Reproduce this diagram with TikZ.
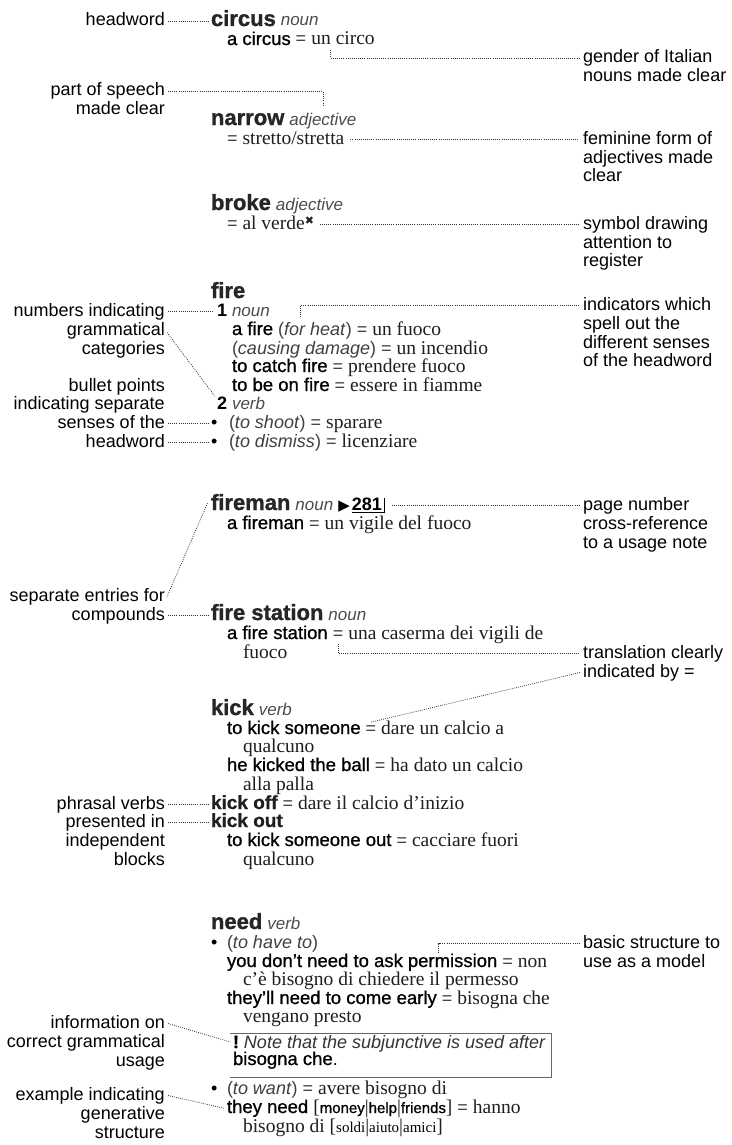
\documentclass[tikz,border=0pt]{standalone}
\usepackage{fontspec}
\setmainfont{Liberation Sans}
\newfontfamily\sansmed[FakeBold=0.9]{Liberation Sans}
\newfontfamily\serifrm{Liberation Serif}
\newfontfamily\symf{DejaVu Sans}
\newcommand\lblf{\fontsize{18}{18}\selectfont}
\newcommand\hwf{\fontsize{22}{22}\selectfont\bfseries\addfontfeature{FakeBold=1.2}\color{black!85}}
\newcommand\posf{\fontsize{17}{17}\selectfont\itshape\color{black!70}}
\newcommand\enf{\fontsize{18.5}{18.5}\selectfont\sansmed}
\newcommand\itf{\fontsize{19.5}{19.5}\selectfont\serifrm\color{black!88}}
\newcommand\eqs{{\fontsize{18}{18}\selectfont\color{black!75}=}}
\newcommand\indic[1]{{\fontsize{18}{18}\selectfont\color{black!75}(\textit{#1})}}
\newcommand\bld{\fontsize{19}{19}\selectfont\bfseries\addfontfeature{FakeBold=0.8}\color{black!88}}
\newcommand\smf{\fontsize{15}{15}\selectfont\sansmed}
\newcommand\smr{\fontsize{15}{15}\selectfont\serifrm}
\begin{document}
\begin{tikzpicture}[x=1pt,y=-1pt,
  ent/.style={inner sep=0pt, outer sep=0pt, anchor=base west, font=\lblf},
  labl/.style={inner sep=0pt, anchor=base east, font=\lblf, text height=13pt, text depth=4pt},
  labr/.style={inner sep=0pt, anchor=base west, font=\lblf, text height=13pt, text depth=4pt},
  dots/.style={draw=black!80, line width=0.8pt, dash pattern=on 0.8pt off 1.3pt},
  rule/.style={draw=black!60, line width=0.8pt}]
\fill[white] (0,0) rectangle (731,1145);
\useasboundingbox (0,0) rectangle (731,1145);

% ---------- left labels
\node[labl] (L1) at (165,26) {headword};
\node[labl] (L2a) at (165,96) {part of speech};
\node[labl] (L2b) at (165,115) {made clear};
\node[labl] (L3a) at (165,316) {numbers indicating};
\node[labl] (L3b) at (165,335) {grammatical};
\node[labl] (L3c) at (165,354) {categories};
\node[labl] (L4a) at (165,391) {bullet points};
\node[labl] (L4b) at (165,409) {indicating separate};
\node[labl] (L4c) at (165,428) {senses of the};
\node[labl] (L4d) at (165,447) {headword};
\node[labl] (L5a) at (165,601) {separate entries for};
\node[labl] (L5b) at (165,620) {compounds};
\node[labl] (L6a) at (165,809) {phrasal verbs};
\node[labl] (L6b) at (165,827) {presented in};
\node[labl] (L6c) at (165,846) {independent};
\node[labl] (L6d) at (165,865) {blocks};
\node[labl] (L7a) at (165,1028) {information on};
\node[labl] (L7b) at (165,1047) {correct grammatical};
\node[labl] (L7c) at (165,1066) {usage};
\node[labl] (L8a) at (165,1100) {example indicating};
\node[labl] (L8b) at (165,1119) {generative};
\node[labl] (L8c) at (165,1138) {structure};

% ---------- right labels
\node[labr] (R1a) at (583,63) {gender of Italian};
\node[labr] (R1b) at (583,82) {nouns made clear};
\node[labr] (R2a) at (583,144) {feminine form of};
\node[labr] (R2b) at (583,163) {adjectives made};
\node[labr] (R2c) at (583,181) {clear};
\node[labr] (R3a) at (583,229) {symbol drawing};
\node[labr] (R3b) at (583,248) {attention to};
\node[labr] (R3c) at (583,266) {register};
\node[labr] (R4a) at (583,310) {indicators which};
\node[labr] (R4b) at (583,329) {spell out the};
\node[labr] (R4c) at (583,348) {different senses};
\node[labr] (R4d) at (583,366) {of the headword};
\node[labr] (R5a) at (583,510) {page number};
\node[labr] (R5b) at (583,529) {cross-reference};
\node[labr] (R5c) at (583,548) {to a usage note};
\node[labr] (R6a) at (583,658) {translation clearly};
\node[labr] (R6b) at (583,677) {indicated by =};
\node[labr] (R7a) at (583,948) {basic structure to};
\node[labr] (R7b) at (583,967) {use as a model};

% ---------- entries
\node[ent] (circ) at (211,26) {\hwf circus};
\node[ent] (circp) at ([xshift=5pt]circ.base east) {\posf noun};
\node[ent] (c1) at (227,45) {\enf a circus};
\node[ent] (ceq) at ([xshift=5pt]c1.base east) {\eqs};
\node[ent] (cun) at ([xshift=5pt]ceq.base east) {\itf un};
\node[ent] (crest) at ([xshift=5pt]cun.base east) {\itf circo};

\node[ent] (nar) at (211,125) {\hwf narrow};
\node[ent] (nadj) at ([xshift=5pt]nar.base east) {\posf adjective};
\node[ent] (st) at (227,144) {\eqs\ \itf stretto/stretta};

\node[ent] (brk) at (211,210) {\hwf broke};
\node[ent] (brkp) at ([xshift=5pt]brk.base east) {\posf adjective};
\node[ent] (av) at (227,229) {\eqs\ \itf al verde\raisebox{5pt}{\symf\fontsize{11}{11}\selectfont ✖}};

\node[ent] (fire) at (211,298) {\hwf fire};
\node[ent] (one) at (217,316) {\bfseries 1};
\node[ent] (onep) at ([xshift=5pt]one.base east) {\posf noun};
\node[ent] (af1) at (232,335) {\enf a fire};
\node[ent] (af2) at ([xshift=5pt]af1.base east) {\indic{for heat}};
\node[ent] (af3) at ([xshift=5pt]af2.base east) {\eqs\ \itf un fuoco};
\node[ent] (cd) at (232,354) {\indic{causing damage} \eqs\ \itf un incendio};
\node[ent] (cf) at (232,372) {{\enf to catch fire} \eqs\ \itf prendere fuoco};
\node[ent] (onf) at (232,391) {{\enf to be on fire} \eqs\ \itf essere in fiamme};
\node[ent] (two) at (217,409) {\bfseries 2};
\node[ent] (twop) at ([xshift=5pt]two.base east) {\posf verb};
\node[ent] (b1) at (211,428) {•};
\node[ent] (sh) at (229,428) {\indic{to shoot} \eqs\ \itf sparare};
\node[ent] (b2) at (211,447) {•};
\node[ent] (dm) at (229,447) {\indic{to dismiss} \eqs\ \itf licenziare};

\node[ent] (fm) at (211,510) {\hwf fireman};
\node[ent] (fmp) at ([xshift=5pt]fm.base east) {\posf noun};
\node[ent] (fmar) at ([xshift=5pt]fmp.base east) {\symf\fontsize{15}{15}\selectfont ▶};
\node[ent] (fmn) at ([xshift=2pt]fmar.base east) {\bfseries 281};
\draw[line width=1pt] ([yshift=-2pt]fmn.south west) -- ([xshift=3pt,yshift=-2pt]fmn.south east) -- ([xshift=3pt,yshift=12pt]fmn.south east);
\node[ent] (afm) at (227,529) {{\enf a fireman} \eqs\ \itf un vigile del fuoco};

\node[ent] (fs) at (211,620) {\hwf fire station};
\node[ent] (fsp) at ([xshift=5pt]fs.base east) {\posf noun};
\node[ent] (fs1) at (227,639) {\enf a fire station};
\node[ent] (fseq) at ([xshift=5pt]fs1.base east) {\eqs};
\node[ent] (fs3) at ([xshift=5pt]fseq.base east) {\itf una caserma dei vigili de};
\node[ent] (fs4) at (243,658) {\itf fuoco};

\node[ent] (kick) at (211,715) {\hwf kick};
\node[ent] (kickp) at ([xshift=5pt]kick.base east) {\posf verb};
\node[ent] (k1) at (227,734) {\enf to kick someone};
\node[ent] (keq) at ([xshift=5pt]k1.base east) {\eqs};
\node[ent] (k3) at ([xshift=5pt]keq.base east) {\itf dare un calcio a};
\node[ent] (k4) at (243,752) {\itf qualcuno};
\node[ent] (k5) at (227,771) {{\enf he kicked the ball} \eqs\ \itf ha dato un calcio};
\node[ent] (k6) at (243,790) {\itf alla palla};
\node[ent] (koff) at (211,809) {\bld kick off};
\node[ent] (koff2) at ([xshift=5pt]koff.base east) {\eqs\ \itf dare il calcio d’inizio};
\node[ent] (kout) at (211,827) {\bld kick out};
\node[ent] (k7) at (227,846) {{\enf to kick someone out} \eqs\ \itf cacciare fuori};
\node[ent] (k8) at (243,865) {\itf qualcuno};

\node[ent] (need) at (211,929) {\hwf need};
\node[ent] (needp) at ([xshift=5pt]need.base east) {\posf verb};
\node[ent] (b3) at (211,948) {•};
\node[ent] (hv) at (227,948) {\indic{to have to}};
\node[ent] (nd1) at (227,967) {\enf you don’t need to ask};
\node[ent] (perm) at ([xshift=5pt]nd1.base east) {\enf permission};
\node[ent] (nd3) at ([xshift=5pt]perm.base east) {\eqs\ \itf non};
\node[ent] (nd4) at (243,985) {\itf c’è bisogno di chiedere il permesso};
\node[ent] (nd5) at (227,1004) {{\enf they’ll need to come early} \eqs\ \itf bisogna che};
\node[ent] (nd6) at (243,1022) {\itf vengano presto};
\node[inner sep=0pt, minimum width=321pt, minimum height=44pt, anchor=north west] (nbox) at (230,1033) {};
\draw[rule] (nbox.north west) -- (nbox.north east) -- (nbox.south east) -- (nbox.south west);
\node[ent] (bang) at (233,1048) {\bfseries\addfontfeature{FakeBold=1} !};
\node[ent] (note1) at ([xshift=5pt]bang.base east) {\itshape\color{black!80}Note that the subjunctive is used after};
\node[ent] (note2) at (233,1065) {{\enf bisogna che}.};
\node[ent] (b4) at (211,1094) {•};
\node[ent] (wt) at (227,1094) {\indic{to want} \eqs\ \itf avere bisogno di};
\node[ent] (tn) at (227,1113) {\enf they need};
\node[ent] (tn2) at ([xshift=5pt]tn.base east) {{\itf[}{\smf money}{\itf|}{\smf help}{\itf|}{\smf friends}{\itf]} \eqs\ {\itf hanno}};
\node[ent] (tn3) at (243,1132) {{\itf bisogno di [}{\smr soldi}{\itf|}{\smr aiuto}{\itf|}{\smr amici}{\itf]}};

% ---------- connectors
\draw[dots] ([xshift=3pt]L1.east) -- ([xshift=-3pt]L1.east -| circ.west);
\draw[dots] ([yshift=-5pt]cun.south east) |- ([xshift=-4pt]R1a.west);
\draw[dots] ([xshift=3pt]L2a.east) -| ([yshift=8pt]nadj.north);
\draw[dots] ([xshift=6pt]st.east |- R2a.west) -- ([xshift=-4pt]R2a.west);
\draw[dots] ([xshift=6pt]av.east |- R3a.west) -- ([xshift=-4pt]R3a.west);
\draw[dots] ([xshift=3pt]L3a.east) -- ([xshift=-3pt]L3a.east -| one.west);
\draw[dots] ([xshift=22pt,yshift=5pt]af2.north west) |- ([xshift=-4pt]R4a.west);
\draw[dots] ([xshift=2pt,yshift=-2pt]L3b.east) -- ([xshift=-2pt]two.north west);
\draw[dots] ([xshift=3pt]L4c.east) -- ([xshift=-2pt]L4c.east -| b1.west);
\draw[dots] ([xshift=3pt]L4d.east) -- ([xshift=-2pt]L4d.east -| b2.west);
\draw[dots] ([xshift=10pt]fmn.east |- R5a.west) -- ([xshift=-4pt]R5a.west);
\draw[dots] ([xshift=2pt]L5a.east) -- ([xshift=-3pt]fm.west);
\draw[dots] ([xshift=3pt]L5b.east) -- ([xshift=-3pt]L5b.east -| fs.west);
\draw[dots] ([yshift=-5pt]fseq.south) |- ([xshift=-4pt]R6a.west);
\draw[dots] ([xshift=-3pt]R6b.west) -- ([yshift=3pt]keq.north);
\draw[dots] ([xshift=3pt]L6a.east) -- ([xshift=-3pt]L6a.east -| koff.west);
\draw[dots] ([xshift=3pt]L6b.east) -- ([xshift=-3pt]L6b.east -| kout.west);
\draw[dots] ([xshift=31pt,yshift=1pt]perm.north west) |- ([xshift=-4pt]R7a.west);
\draw[dots] ([xshift=3pt]L7a.east) -- ([xshift=-3pt]bang.west);
\draw[dots] ([xshift=3pt]L8a.east) -- ([xshift=-3pt]tn.west);
\end{tikzpicture}
\end{document}
